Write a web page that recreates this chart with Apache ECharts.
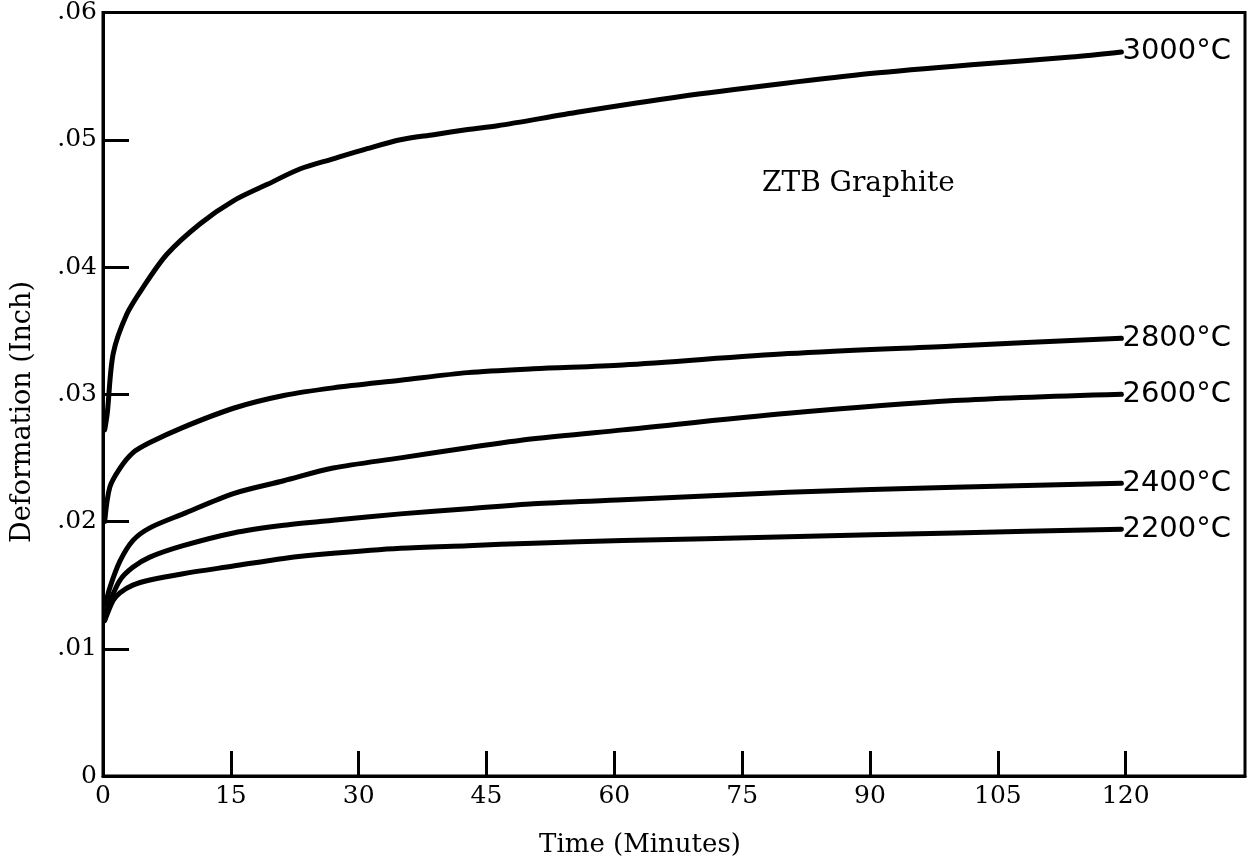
<!DOCTYPE html>
<html>
<head>
<meta charset="utf-8">
<script src="https://cdn.jsdelivr.net/npm/echarts@6/dist/echarts.min.js"></script>
<style>
  html, body { margin: 0; padding: 0; background: #fff; }
  #chart { width: 1255px; height: 861px; }
</style>
</head>
<body>
<div id="chart"></div>
<script>
// Creep deformation of ZTB graphite vs. time at several temperatures
const seriesNames = ['3000°C', '2800°C', '2600°C', '2400°C', '2200°C'];

const time3000 = [0.2, 0.5, 1.2, 2.8, 4.7, 7.5, 11.4, 15.3, 19.3, 23.1, 27.0, 31.0, 34.9, 38.8, 42.8, 46.3, 56, 67.8, 79.6, 90, 101.9, 113.6, 119.5];
const def3000  = [0.0272, 0.0285, 0.0332, 0.0363, 0.0384, 0.0410, 0.0434, 0.0452, 0.0465, 0.0477, 0.0485, 0.0493, 0.0500, 0.0504, 0.0508, 0.0511, 0.0522, 0.0534, 0.0544, 0.0552, 0.0559, 0.0565, 0.0569];

const time2800 = [0.2, 0.8, 2, 3.5, 5.5, 9.4, 15.3, 21.2, 27, 34.9, 42.8, 50.5, 61, 80.4, 99.9, 119.5];
const def2800  = [0.0200, 0.0227, 0.0242, 0.0254, 0.0262, 0.0274, 0.0289, 0.0299, 0.0305, 0.0311, 0.0317, 0.0320, 0.0323, 0.0332, 0.0338, 0.0344];

const time2600 = [0.3, 0.8, 2, 3.5, 5.5, 9.4, 15.3, 21.2, 27, 34.9, 42.8, 50.5, 61, 80.4, 99.9, 119.5];
const def2600  = [0.0135, 0.0148, 0.0169, 0.0185, 0.0195, 0.0206, 0.0222, 0.0232, 0.0242, 0.0250, 0.0258, 0.0265, 0.0272, 0.0285, 0.0295, 0.0300];

const time2400 = [0.2, 0.8, 2, 3.5, 5.5, 9.4, 15.3, 21.2, 27, 34.9, 42.8, 50.5, 61, 80.4, 99.9, 119.5];
const def2400  = [0.0125, 0.0137, 0.0154, 0.0164, 0.0172, 0.0181, 0.0191, 0.0197, 0.0201, 0.0206, 0.0210, 0.0214, 0.0217, 0.0223, 0.0227, 0.0230];

const time2200 = [0.2, 1.2, 2, 3.5, 5.5, 9.4, 15.3, 21.2, 27, 34.9, 42.8, 50.5, 61, 80.4, 99.9, 119.5];
const def2200  = [0.0122, 0.0138, 0.0144, 0.0150, 0.0154, 0.0159, 0.0165, 0.0171, 0.0175, 0.0179, 0.0181, 0.0183, 0.0185, 0.0188, 0.0191, 0.0194];

const xTickStep = 15;
const yTickStep = 0.01;

const curves = [
  [time3000, def3000],
  [time2800, def2800],
  [time2600, def2600],
  [time2400, def2400],
  [time2200, def2200]
];

const serif = 'DejaVu Serif';
const sans = 'DejaVu Sans';

const chart = echarts.init(document.getElementById('chart'), null, { renderer: 'canvas' });

chart.setOption({
  backgroundColor: '#ffffff',
  animation: false,
  grid: {
    left: 103, right: 10, top: 12, bottom: 85,
    show: true, borderColor: '#000', borderWidth: 3, backgroundColor: 'transparent'
  },
  xAxis: {
    type: 'value', min: 0, max: 134, interval: xTickStep,
    axisLine: { lineStyle: { color: '#000', width: 3 } },
    axisTick: { inside: true, length: 25, lineStyle: { color: '#000', width: 3 } },
    splitLine: { show: false },
    axisLabel: {
      color: '#000', fontFamily: serif, fontSize: 25, margin: 8,
      showMaxLabel: false,
      formatter: v => (Math.abs(v % xTickStep) < 1e-9 ? String(v) : '')
    }
  },
  yAxis: {
    type: 'value', min: 0, max: 0.06, interval: yTickStep,
    axisLine: { lineStyle: { color: '#000', width: 3 } },
    axisTick: { inside: true, length: 26, lineStyle: { color: '#000', width: 3 } },
    splitLine: { show: false },
    axisLabel: {
      color: '#000', fontFamily: serif, fontSize: 25, margin: 6,
      formatter: v => (v === 0 ? '0' : '.' + (Math.round(v * 100)).toString().padStart(2, '0'))
    }
  },
  graphic: [
    {
      type: 'text', left: 762, top: 170,
      style: { text: 'ZTB Graphite', font: '28px "' + serif + '"', fill: '#000' }
    },
    {
      type: 'text', x: 640, y: 845,
      style: { text: 'Time (Minutes)', font: '26px "' + serif + '"', fill: '#000', align: 'center', verticalAlign: 'middle' }
    },
    {
      type: 'text', x: 23, y: 412, rotation: Math.PI / 2,
      style: { text: 'Deformation (Inch)', font: '27px "' + serif + '"', fill: '#000', align: 'center', verticalAlign: 'middle' }
    }
  ],
  series: curves.map((c, i) => ({
    name: seriesNames[i],
    type: 'line',
    data: c[0].map((t, k) => [t, c[1][k]]),
    showSymbol: false,
    smooth: 0.3,
    lineStyle: { color: '#000', width: 5, cap: 'round', join: 'round' },
    endLabel: {
      show: true, formatter: seriesNames[i], distance: 1,
      color: '#000', fontFamily: sans, fontSize: 29
    }
  }))
});
</script>
</body>
</html>
